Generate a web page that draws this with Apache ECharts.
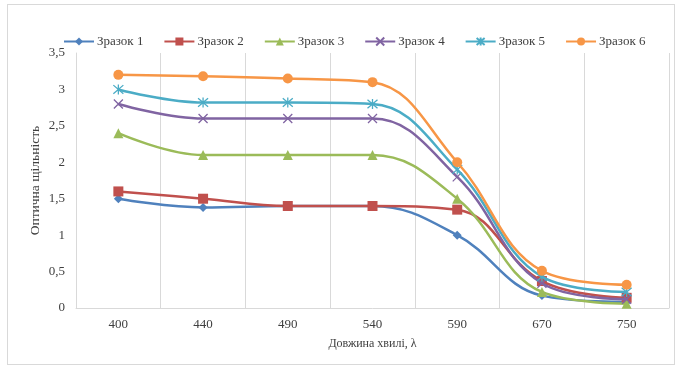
<!DOCTYPE html>
<html>
<head>
<meta charset="utf-8">
<script src="https://cdn.jsdelivr.net/npm/echarts@6/dist/echarts.min.js"></script>
<style>
  html, body { margin: 0; padding: 0; background: #fff; }
  #frame { position: absolute; left: 7px; top: 4px; width: 668px; height: 361px; border: 1px solid #d9d9d9; box-sizing: border-box; }
  #chart { position: absolute; left: 0; top: 0; width: 677px; height: 368px; }
</style>
</head>
<body>
<div id="frame"></div>
<div id="chart"></div>
<script>
// Wavelengths (nm)
const wavelengths = ['400', '440', '490', '540', '590', '670', '750'];

// Optical density for each sample
const sample1 = [1.50, 1.38, 1.40, 1.40, 1.00, 0.17, 0.08];
const sample2 = [1.60, 1.50, 1.40, 1.40, 1.35, 0.37, 0.14];
const sample3 = [2.40, 2.10, 2.10, 2.10, 1.50, 0.22, 0.06];
const sample4 = [2.80, 2.60, 2.60, 2.60, 1.80, 0.34, 0.12];
const sample5 = [3.00, 2.82, 2.82, 2.80, 1.90, 0.43, 0.22];
const sample6 = [3.20, 3.18, 3.15, 3.10, 2.00, 0.51, 0.32];

const seriesNames = ['Зразок 1', 'Зразок 2', 'Зразок 3', 'Зразок 4', 'Зразок 5', 'Зразок 6'];

const colors = ['#4F81BD', '#C0504D', '#9BBB59', '#8064A2', '#4BACC6', '#F79646'];
const crossPath = 'path://M0,0L10,10M10,0L0,10';
const starPath = 'path://M5,0L5,10M0.7,0.7L9.3,9.3M9.3,0.7L0.7,9.3';
const symbols = ['diamond', 'rect', 'triangle', crossPath, starPath, 'circle'];
const symbolSizes = [9, 10, 10, 9, 10, 10];

const values = [sample1, sample2, sample3, sample4, sample5, sample6];
const font = '"Liberation Serif", "Times New Roman", serif';

const series = values.map((v, i) => {
  const stroked = i === 3 || i === 4;
  return {
    name: seriesNames[i],
    type: 'line',
    data: v,
    smooth: 0.4,
    symbol: symbols[i],
    symbolSize: symbolSizes[i],
    showAllSymbol: true,
    lineStyle: { color: colors[i], width: 2.5 },
    itemStyle: stroked
      ? { color: colors[i], borderColor: colors[i], borderWidth: 1.3 }
      : { color: colors[i], borderWidth: 0 },
    z: 2 + i
  };
});

const chart = echarts.init(document.getElementById('chart'), null, { renderer: 'canvas' });
chart.setOption({
  backgroundColor: 'transparent',
  animation: false,
  color: colors,
  legend: {
    left: 58,
    top: 30,
    itemWidth: 30,
    itemHeight: 10,
    itemGap: 20,
    textStyle: { fontFamily: font, fontSize: 13, color: '#404040', padding: [0, 0, 0, -2] },
    data: seriesNames
  },
  grid: { left: 76, right: 8, top: 53, bottom: 60, containLabel: false },
  xAxis: {
    type: 'category',
    data: wavelengths,
    boundaryGap: true,
    name: 'Довжина хвилі, λ',
    nameLocation: 'middle',
    nameGap: 30,
    nameTextStyle: { fontFamily: font, fontSize: 12, color: '#404040' },
    axisLine: { lineStyle: { color: '#d9d9d9', width: 1 } },
    axisTick: { show: false },
    axisLabel: { fontFamily: font, fontSize: 13, color: '#404040', margin: 10 },
    splitLine: { show: true, interval: 0, lineStyle: { color: '#d9d9d9', width: 1 } }
  },
  yAxis: {
    type: 'value',
    min: 0,
    max: 3.5,
    interval: 0.5,
    name: 'Оптична щільність',
    nameLocation: 'middle',
    nameGap: 34,
    nameMoveOverlap: false,
    nameRotate: 90,
    nameTextStyle: { fontFamily: font, fontSize: 13.5, color: '#404040' },
    axisLine: { show: true, lineStyle: { color: '#d9d9d9', width: 1 } },
    axisTick: { show: false },
    splitLine: { show: false },
    axisLabel: {
      fontFamily: font, fontSize: 13, color: '#404040', margin: 11,
      formatter: v => String(v).replace('.', ',')
    }
  },
  series: series
});
</script>
</body>
</html>
